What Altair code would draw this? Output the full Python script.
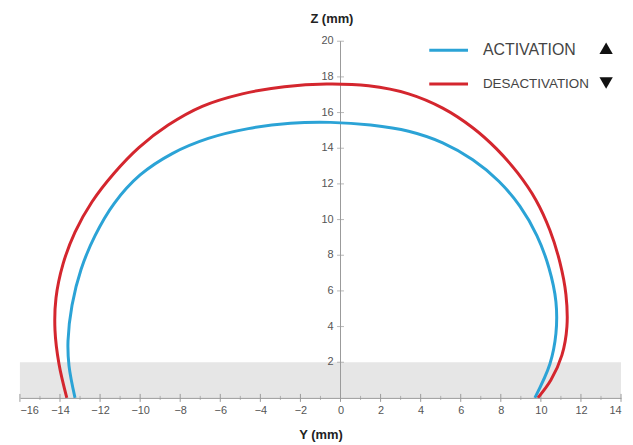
import altair as alt
import pandas as pd

# ACTIVATION curve (Y, Z in mm), traced from the left foot, over the top, to the right foot
act_y = [-13.25, -13.55, -13.6, -13.4, -12.95, -12.25, -11.3, -10.0, -8.4, -6.6, -4.6, -2.5, -0.5,
         1.5, 3.4, 5.1, 6.6, 7.9, 8.95, 9.8, 10.4, 10.75, 10.75, 10.45, 9.7]
act_z = [0.0, 1.8, 3.2, 5.2, 7.2, 9.1, 10.9, 12.5, 13.7, 14.55, 15.1, 15.4, 15.45,
         15.3, 14.95, 14.3, 13.35, 12.15, 10.75, 9.1, 7.3, 5.4, 3.6, 1.9, 0.0]

# DESACTIVATION curve
des_y = [-13.66, -14.05, -14.25, -14.2, -13.85, -13.25, -12.4, -11.3, -10.05, -8.6, -6.9, -4.9, -2.8, -0.7,
         1.4, 3.4, 5.1, 6.6, 7.8, 8.85, 9.75, 10.45, 10.95, 11.25, 11.3, 11.05, 10.5, 9.85]
des_z = [0.0, 1.9, 3.8, 5.6, 7.5, 9.3, 11.0, 12.6, 14.05, 15.3, 16.35, 17.05, 17.45, 17.6,
         17.5, 17.05, 16.25, 15.15, 13.95, 12.6, 11.1, 9.4, 7.6, 5.8, 4.0, 2.4, 1.0, 0.0]

series_names = ["ACTIVATION", "DESACTIVATION"]
series_colors = ["#2ba3d6", "#d4262e"]

x_ticks = list(range(-16, 15, 2))
x_minor = list(range(-15, 14, 2))
y_ticks = list(range(2, 21, 2))

band_y = [-16, 14]
band_z = [0, 2]

rows = []
for i, (a, b) in enumerate(zip(act_y, act_z)):
    rows.append({"y": a, "z": b, "s": series_names[0], "o": i})
for i, (a, b) in enumerate(zip(des_y, des_z)):
    rows.append({"y": a, "z": b, "s": series_names[1], "o": i})
curves = pd.DataFrame(rows)

W, H = 605, 359
xscale = alt.Scale(domain=[-16, 14], nice=False, zero=False)
yscale = alt.Scale(domain=[0, 20], nice=False, zero=False)

x_axis = alt.Axis(values=x_ticks, title="Y (mm)", grid=False, ticks=False,
                  domainColor="#9a9a9a", labelColor="#555555", labelFontSize=11,
                  labelPadding=7, titleFontSize=13, titleFontWeight="bold",
                  titleColor="#222222", titlePadding=13, labelFont="Liberation Sans",
                  titleFont="Liberation Sans", labelOverlap=False, zindex=1)

band = alt.Chart(pd.DataFrame({"x0": [band_y[0]], "x1": [band_y[1]], "z0": [band_z[0]], "z1": [band_z[1]]})).mark_rect(
    color="#e6e6e6").encode(
    x=alt.X("x0:Q", scale=xscale, axis=x_axis),
    x2="x1:Q",
    y=alt.Y("z0:Q", scale=yscale, axis=None),
    y2="z1:Q",
)

# x-axis tick marks (crossing the axis line)
major = alt.Chart(pd.DataFrame({"t": x_ticks})).mark_rule(color="#9a9a9a", strokeWidth=1).encode(
    x=alt.X("t:Q", scale=xscale), y=alt.value(H - 4), y2=alt.value(H + 4))
minor = alt.Chart(pd.DataFrame({"t": x_minor})).mark_rule(color="#b0b0b0", strokeWidth=1).encode(
    x=alt.X("t:Q", scale=xscale), y=alt.value(H - 2), y2=alt.value(H + 2))

# vertical Z axis drawn at Y = 0
zaxis_df = pd.DataFrame({"x": [0]})
zaxis_line = alt.Chart(zaxis_df).mark_rule(color="#9a9a9a", strokeWidth=1).encode(
    x=alt.X("x:Q", scale=xscale), y=alt.value(0), y2=alt.value(H))
ylab_df = pd.DataFrame({"x": [0] * len(y_ticks), "v": y_ticks})
zaxis_ticks = alt.Chart(ylab_df).mark_tick(orient="horizontal", size=7, thickness=1, color="#9a9a9a").encode(
    x=alt.X("x:Q", scale=xscale), y=alt.Y("v:Q", scale=yscale))
zaxis_labels = alt.Chart(ylab_df).mark_text(align="right", baseline="middle", dx=-7, fontSize=11,
                                            color="#555555", font="Liberation Sans").encode(
    x=alt.X("x:Q", scale=xscale), y=alt.Y("v:Q", scale=yscale), text=alt.Text("v:Q"))

lines = alt.Chart(curves).mark_line(strokeWidth=3, interpolate="catmull-rom").encode(
    x=alt.X("y:Q", scale=xscale),
    y=alt.Y("z:Q", scale=yscale),
    color=alt.Color("s:N", scale=alt.Scale(domain=series_names, range=series_colors), legend=None),
    order="o:Q",
)

one = pd.DataFrame({"k": [0]})
ztitle = alt.Chart(one).mark_text(text="Z (mm)", fontSize=13, fontWeight="bold", color="#222222",
                                  font="Liberation Sans", align="center", baseline="middle").encode(
    x=alt.value(314), y=alt.value(-22))

leg1_line = alt.Chart(one).mark_rule(color=series_colors[0], strokeWidth=3).encode(
    x=alt.value(412), x2=alt.value(451), y=alt.value(9))
leg2_line = alt.Chart(one).mark_rule(color=series_colors[1], strokeWidth=3).encode(
    x=alt.value(412), x2=alt.value(451), y=alt.value(43))
leg1_text = alt.Chart(one).mark_text(text=series_names[0], fontSize=16, color="#444444", align="left",
                                     baseline="middle", font="Liberation Sans").encode(
    x=alt.value(466), y=alt.value(9))
leg2_text = alt.Chart(one).mark_text(text=series_names[1], fontSize=13.5, color="#444444", align="left",
                                     baseline="middle", font="Liberation Sans").encode(
    x=alt.value(466), y=alt.value(43))
tri_up = alt.Chart(one).mark_point(shape="triangle-up", filled=True, color="#111111", size=180, opacity=1).encode(
    x=alt.value(590), y=alt.value(7))
tri_dn = alt.Chart(one).mark_point(shape="triangle-down", filled=True, color="#111111", size=180, opacity=1).encode(
    x=alt.value(590), y=alt.value(42))

chart = alt.layer(band, major, minor, zaxis_line, zaxis_ticks, zaxis_labels, lines, ztitle,
                  leg1_line, leg2_line, leg1_text, leg2_text, tri_up, tri_dn).properties(
    width=W, height=H,
    autosize=alt.AutoSizeParams(type="none"),
    padding={"left": 12, "top": 32, "right": 4, "bottom": 52},
    background="white",
).configure_view(stroke=None)

chart.save("out.html", embed_options={"renderer": "svg", "actions": False})
